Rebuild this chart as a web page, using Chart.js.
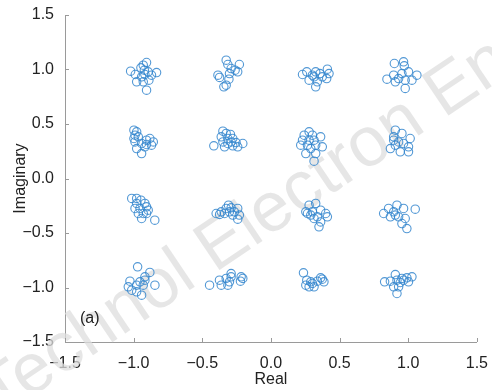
<!DOCTYPE html>
<html>
<head>
<meta charset="utf-8">
<script src="https://cdn.jsdelivr.net/npm/chart.js@4/dist/chart.umd.min.js"></script>
<style>
  html, body { margin: 0; padding: 0; background: #fff; }
  #wrap { width: 492px; height: 390px; }
</style>
</head>
<body>
<div id="wrap"><canvas id="constellation"></canvas></div>
<script>
// received 16-QAM symbols
const realPart = [
    // row I ~ 1.0
    -1.022, -0.988, -0.930, -0.906, -0.922, -0.894, -0.870, -0.833, -0.942, -0.978, -0.930, -0.889, -0.906, -0.947, -0.918,
    -0.326, -0.314, -0.230, -0.242, -0.290, -0.386, -0.374, -0.302, -0.326, -0.343, -0.261, -0.306,
    0.230, 0.261, 0.302, 0.326, 0.357, 0.411, 0.423, 0.406, 0.338, 0.326, 0.278, 0.314, 0.374,
    0.899, 0.966, 0.971, 1.002, 1.063, 1.027, 0.978, 0.930, 0.894, 0.845, 0.906, 0.978, 0.954,
    // row ~ 0.33
    -0.998, -0.978, -0.990, -0.998, -0.966, -0.990, -0.942, -0.906, -0.882, -0.857, -0.870, -0.918, -0.978, -0.942, -0.906,
    -0.350, -0.326, -0.295, -0.362, -0.314, -0.278, -0.350, -0.314, -0.278, -0.242, -0.205, -0.416, -0.290, -0.338, -0.254,
    0.278, 0.242, 0.302, 0.362, 0.230, 0.278, 0.314, 0.217, 0.266, 0.326, 0.374, 0.254, 0.326, 0.314, 0.290,
    0.906, 0.954, 0.894, 1.014, 1.002, 0.930, 0.906, 0.870, 0.942, 1.002, 0.894, 0.966,
    // row ~ -0.33
    -1.014, -0.978, -0.947, -0.918, -0.990, -0.954, -0.906, -0.966, -0.930, -0.894, -0.942, -0.846, -0.978, -0.906,
    -0.399, -0.362, -0.326, -0.309, -0.290, -0.242, -0.230, -0.266, -0.302, -0.338, -0.242, -0.278, -0.374,
    0.278, 0.326, 0.254, 0.302, 0.362, 0.399, 0.411, 0.338, 0.290, 0.362, 0.350, 0.314, 0.266,
    0.821, 0.857, 0.918, 0.966, 1.051, 0.894, 0.870, 0.930, 0.978, 0.954, 0.990, 0.906,
    // row ~ -1.0
    -0.971, -0.882, -0.918, -1.027, -0.954, -0.918, -0.845, -1.039, -0.978, -1.014, -0.978, -0.942, -0.930,
    -0.447, -0.375, -0.362, -0.326, -0.302, -0.290, -0.290, -0.217, -0.205, -0.222, -0.314,
    0.237, 0.261, 0.290, 0.254, 0.314, 0.338, 0.362, 0.386, 0.374, 0.302, 0.278,
    0.828, 0.870, 0.906, 0.918, 0.954, 0.990, 1.027, 0.894, 0.930, 0.918, 0.966, 0.942, 1.002
];
const imagPart = [
    0.985, 0.954, 1.040, 1.064, 0.994, 0.979, 0.948, 0.972, 0.933, 0.887, 0.887, 0.902, 0.810, 1.015, 0.954,
    1.086, 1.046, 1.046, 0.979, 1.009, 0.948, 0.927, 0.963, 0.856, 0.841, 0.994, 0.911,
    0.954, 0.979, 0.948, 0.979, 0.963, 1.003, 0.963, 0.917, 0.887, 0.841, 0.902, 0.933, 0.933,
    1.055, 1.070, 1.034, 0.979, 0.948, 0.902, 0.902, 0.917, 0.948, 0.911, 0.887, 0.826, 0.963,
    0.443, 0.428, 0.397, 0.367, 0.382, 0.336, 0.321, 0.352, 0.367, 0.336, 0.306, 0.291, 0.275, 0.229, 0.312,
    0.434, 0.413, 0.404, 0.382, 0.367, 0.367, 0.336, 0.321, 0.300, 0.291, 0.321, 0.300, 0.336, 0.291, 0.330,
    0.428, 0.397, 0.397, 0.382, 0.352, 0.352, 0.352, 0.306, 0.306, 0.306, 0.291, 0.229, 0.229, 0.159, 0.275,
    0.443, 0.413, 0.382, 0.367, 0.291, 0.336, 0.306, 0.275, 0.245, 0.245, 0.352, 0.321,
    -0.183, -0.229, -0.199, -0.229, -0.275, -0.275, -0.260, -0.321, -0.321, -0.291, -0.367, -0.382, -0.183, -0.321,
    -0.321, -0.306, -0.275, -0.245, -0.269, -0.275, -0.336, -0.306, -0.306, -0.321, -0.373, -0.336, -0.330,
    -0.245, -0.229, -0.306, -0.306, -0.291, -0.321, -0.352, -0.352, -0.336, -0.398, -0.443, -0.367, -0.321,
    -0.321, -0.275, -0.245, -0.275, -0.281, -0.306, -0.352, -0.352, -0.367, -0.413, -0.459, -0.336,
    -0.810, -0.862, -0.902, -0.942, -0.948, -0.933, -0.979, -0.994, -0.979, -1.025, -1.040, -1.070, -0.979,
    -0.979, -0.933, -0.979, -0.917, -0.948, -0.872, -0.902, -0.902, -0.917, -0.942, -0.979,
    -0.865, -0.933, -0.948, -0.979, -0.994, -0.942, -0.911, -0.948, -0.924, -0.963, -0.994,
    -0.948, -0.942, -0.881, -0.933, -0.917, -0.911, -0.902, -0.994, -0.994, -1.055, -0.933, -0.954, -0.948
];
const axisMin = -1.5;
const axisMax = 1.5;
const tickStep = 0.5;
const panelLabel = '(a)';
const watermarkText = 'Technol Electron Eng';

const points = realPart.map((x, i) => ({ x: x, y: imagPart[i] }));
const fontFamily = '"Liberation Sans", Arial, sans-serif';

function fmt(v) {
    return v.toFixed(1).replace('-', '\u2212');
}

// watermark under the points, inward ticks and panel label on top
const extras = {
    id: 'extras',
    beforeDatasetsDraw(chart) {
        const ctx = chart.ctx;
        ctx.save();
        ctx.translate(262, 218);
        ctx.rotate(-34 * Math.PI / 180);
        ctx.font = '70px ' + fontFamily;
        ctx.fillStyle = 'rgba(222,222,222,0.75)';
        ctx.textAlign = 'center';
        ctx.textBaseline = 'middle';
        ctx.fillText(watermarkText, 0, 0);
        ctx.restore();
    },
    afterDraw(chart) {
        const ctx = chart.ctx;
        const xs = chart.scales.x, ys = chart.scales.y;
        const area = chart.chartArea;
        ctx.save();
        ctx.strokeStyle = '#9a9a9a';
        ctx.lineWidth = 1;
        ctx.beginPath();
        xs.ticks.forEach(t => {
            const px = Math.round(xs.getPixelForValue(t.value)) + 0.5;
            ctx.moveTo(px, area.bottom);
            ctx.lineTo(px, area.bottom - 4);
        });
        ys.ticks.forEach(t => {
            const py = Math.round(ys.getPixelForValue(t.value)) + 0.5;
            ctx.moveTo(area.left, py);
            ctx.lineTo(area.left + 4, py);
        });
        ctx.stroke();
        ctx.font = '16px ' + fontFamily;
        ctx.fillStyle = '#222';
        ctx.textBaseline = 'middle';
        ctx.fillText(panelLabel, 80, 319);
        ctx.restore();
    }
};

new Chart(document.getElementById('constellation'), {
    type: 'scatter',
    data: {
        datasets: [{
            data: points,
            pointStyle: 'circle',
            pointRadius: 4.2,
            pointHoverRadius: 4.2,
            pointBorderWidth: 1.1,
            borderColor: 'rgba(52,134,206,0.85)',
            backgroundColor: 'rgba(0,0,0,0)'
        }]
    },
    options: {
        responsive: true,
        maintainAspectRatio: false,
        animation: false,
        layout: { padding: { top: 15, right: 15, left: 0, bottom: 0 } },
        plugins: { legend: { display: false }, tooltip: { enabled: false } },
        scales: {
            x: {
                type: 'linear',
                min: axisMin,
                max: axisMax,
                afterFit: s => { s.height = 48; },
                grid: { display: false },
                border: { display: true, color: '#9a9a9a', width: 1 },
                ticks: {
                    stepSize: tickStep,
                    padding: 4,
                    color: '#222',
                    font: { family: fontFamily, size: 16 },
                    maxRotation: 0,
                    callback: v => fmt(v)
                },
                title: {
                    display: true,
                    text: 'Real',
                    color: '#222',
                    font: { family: fontFamily, size: 16 },
                    padding: { top: 0, bottom: 1 }
                }
            },
            y: {
                type: 'linear',
                min: axisMin,
                max: axisMax,
                afterFit: s => { s.width = 65; },
                grid: { display: false },
                border: { display: true, color: '#9a9a9a', width: 1 },
                ticks: {
                    stepSize: tickStep,
                    padding: 3,
                    color: '#222',
                    font: { family: fontFamily, size: 16 },
                    callback: v => fmt(v)
                },
                title: {
                    display: true,
                    text: 'Imaginary',
                    color: '#222',
                    font: { family: fontFamily, size: 16 },
                    padding: { top: 11, bottom: 0 }
                }
            }
        }
    },
    plugins: [extras]
});
</script>
</body>
</html>
